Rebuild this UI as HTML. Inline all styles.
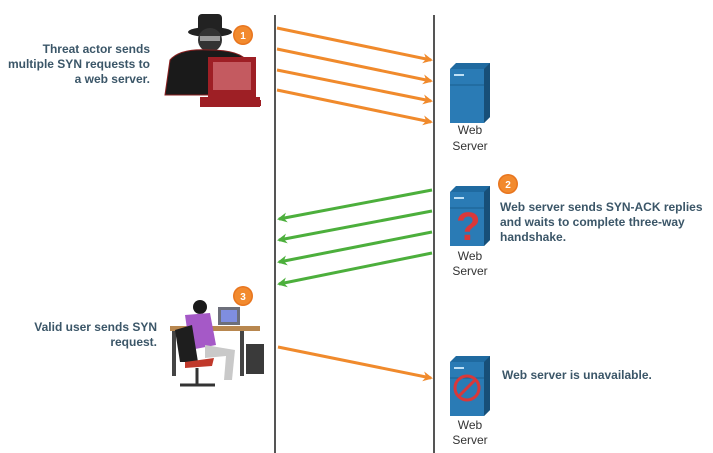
<!DOCTYPE html>
<html><head><meta charset="utf-8"><style>
html,body{margin:0;padding:0;background:#fff;width:713px;height:453px;overflow:hidden}
text{font-family:"Liberation Sans",sans-serif}
.b{font-weight:bold;font-size:12px;fill:#3b5668}
.s{font-size:12px;fill:#333}
</style></head><body>
<svg width="713" height="453" viewBox="0 0 713 453" xmlns="http://www.w3.org/2000/svg">
<defs>
<marker id="ao" markerWidth="10" markerHeight="10" refX="8" refY="5" orient="auto" markerUnits="userSpaceOnUse"><path d="M0,0 L10,5 L0,10 L3,5z" fill="#f08a2c"/></marker>
<marker id="ag" markerWidth="10" markerHeight="10" refX="8" refY="5" orient="auto" markerUnits="userSpaceOnUse"><path d="M0,0 L10,5 L0,10 L3,5z" fill="#4caf3c"/></marker>
<g id="srv">
<path d="M0,6 L6,0 L40,0 L40,54 L34,60 L0,60z" fill="#1f6aa0"/>
<path d="M34,6 L40,0 L40,54 L34,60z" fill="#174f78"/>
<rect x="0" y="6" width="34" height="54" fill="#2a7bb5"/>
<rect x="4" y="11" width="10" height="2" fill="#bfe0f5"/>
<line x1="0" y1="22" x2="34" y2="22" stroke="#1b5f90"/>
</g>
<g id="badge"><circle r="10" fill="#e8751e"/><circle r="8.5" fill="#f28a2e"/></g>
</defs>
<line x1="275" y1="15" x2="275" y2="453" stroke="#555" stroke-width="2"/>
<line x1="434" y1="15" x2="434" y2="453" stroke="#555" stroke-width="2"/>
<g stroke="#f08a2c" stroke-width="3" marker-end="url(#ao)">
<line x1="277" y1="28" x2="431" y2="60"/>
<line x1="277" y1="49" x2="431" y2="81"/>
<line x1="277" y1="70" x2="431" y2="101"/>
<line x1="277" y1="90" x2="431" y2="122"/>
<line x1="278" y1="347" x2="431" y2="378"/>
</g>
<g stroke="#4caf3c" stroke-width="3" marker-end="url(#ag)">
<line x1="432" y1="190" x2="279" y2="219"/>
<line x1="432" y1="211" x2="279" y2="240"/>
<line x1="432" y1="232" x2="279" y2="262"/>
<line x1="432" y1="253" x2="279" y2="284"/>
</g>
<use href="#srv" x="450" y="63"/>
<use href="#srv" x="450" y="186"/>
<text x="456" y="240" font-size="40" font-weight="bold" fill="#d9383a">?</text>
<use href="#srv" x="450" y="356"/>
<circle cx="467" cy="388" r="12" fill="none" stroke="#d9383a" stroke-width="3"/>
<line x1="459" y1="396" x2="475" y2="380" stroke="#d9383a" stroke-width="3"/>
<g class="s" text-anchor="middle">
<text x="470" y="134">Web</text><text x="470" y="150">Server</text>
<text x="470" y="260">Web</text><text x="470" y="275">Server</text>
<text x="470" y="429">Web</text><text x="470" y="444">Server</text>
</g>
<g class="b" text-anchor="end">
<text x="150" y="53">Threat actor sends</text>
<text x="150" y="68">multiple SYN requests to</text>
<text x="150" y="83">a web server.</text>
<text x="157" y="331">Valid user sends SYN</text>
<text x="157" y="346">request.</text>
</g>
<g class="b">
<text x="500" y="211">Web server sends SYN-ACK replies</text>
<text x="500" y="226">and waits to complete three-way</text>
<text x="500" y="241">handshake.</text>
<text x="502" y="379">Web server is unavailable.</text>
</g>
<use href="#badge" x="243" y="35"/><text x="243" y="39" font-size="10" font-weight="bold" fill="#fff" text-anchor="middle">1</text>
<use href="#badge" x="508" y="184"/><text x="508" y="188" font-size="10" font-weight="bold" fill="#fff" text-anchor="middle">2</text>
<use href="#badge" x="243" y="296"/><text x="243" y="300" font-size="10" font-weight="bold" fill="#fff" text-anchor="middle">3</text>
<!-- threat actor -->
<ellipse cx="210" cy="32" rx="22" ry="5" fill="#222"/>
<rect x="198" y="14" width="24" height="20" rx="4" fill="#222"/>
<circle cx="210" cy="40" r="12" fill="#333"/>
<rect x="200" y="36" width="20" height="5" fill="#999"/>
<path d="M165,95 L170,60 Q180,48 210,50 Q240,50 248,62 L250,95z" fill="#1a1a1a" stroke="#8a2020"/>
<rect x="208" y="57" width="48" height="40" fill="#9e1f25"/>
<rect x="213" y="62" width="38" height="28" fill="#c45a60"/>
<rect x="200" y="97" width="60" height="10" fill="#9e1f25"/>
<rect x="253" y="100" width="8" height="6" fill="#9e1f25"/>
<!-- user -->
<rect x="218" y="307" width="22" height="18" fill="#6d6f7a"/><rect x="221" y="310" width="16" height="12" fill="#7f8ee0"/>
<rect x="170" y="326" width="90" height="5" fill="#b8874f"/>
<rect x="246" y="344" width="18" height="30" fill="#3a3a3a"/>
<rect x="172" y="331" width="4" height="45" fill="#444"/><rect x="240" y="331" width="4" height="45" fill="#444"/>
<circle cx="200" cy="307" r="7" fill="#1a1a1a"/>
<path d="M185,315 L210,313 L216,345 L190,350z" fill="#a559c7"/>
<path d="M175,330 L192,325 L198,362 L180,362z" fill="#1e1e1e"/>
<path d="M185,362 L214,358 L212,366 L185,368z" fill="#c0392b"/>
<path d="M205,345 L235,350 L232,380 L224,380 L226,356 L205,358z" fill="#c9c9c9"/>
<path d="M180,385 L215,385 M197,368 L197,385" stroke="#333" stroke-width="3"/>
</svg>
</body></html>
